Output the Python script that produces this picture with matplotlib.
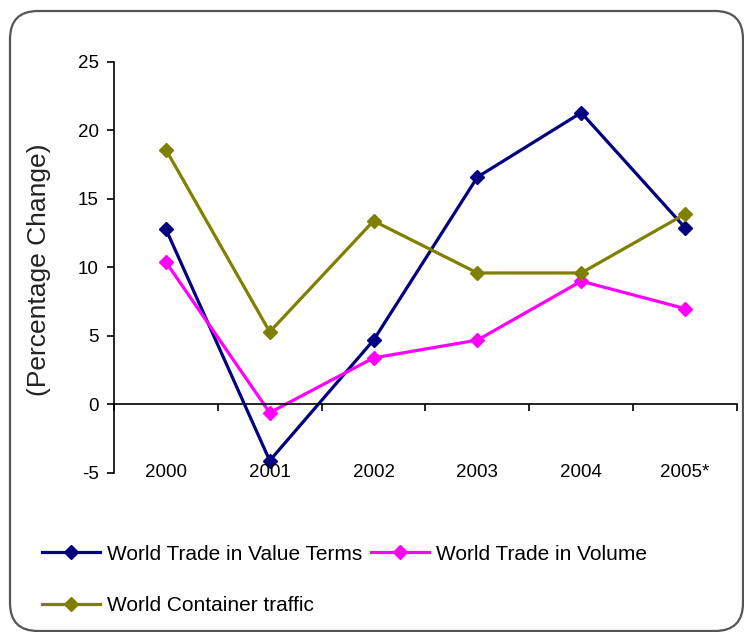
import numpy as np
import matplotlib.pyplot as plt
from matplotlib.patches import FancyBboxPatch

plt.rcParams['font.family'] = ['Liberation Sans', 'DejaVu Sans']
plt.rcParams['axes.unicode_minus'] = False

years = ['2000', '2001', '2002', '2003', '2004', '2005*']
value_terms = [12.8, -4.1, 4.7, 16.6, 21.3, 12.9]
volume = [10.4, -0.6, 3.4, 4.7, 9.0, 7.0]
container = [18.6, 5.3, 13.4, 9.6, 9.6, 13.9]

series = [
    ('World Trade in Value Terms', value_terms, '#000080'),
    ('World Trade in Volume', volume, '#FF00FF'),
    ('World Container traffic', container, '#808000'),
]

fig = plt.figure(figsize=(7.44, 6.32), dpi=100)
ax = fig.add_axes([0.1532, 0.2516, 0.8374, 0.6503])

x = np.arange(len(years))
handles = {}
for name, vals, col in series:
    h, = ax.plot(x, vals, color=col, lw=2.3, marker='D', ms=7,
                 markeredgecolor=col, label=name)
    handles[name] = h

ax.set_xlim(-0.5, len(years) - 0.5)
ax.set_ylim(-5, 25)
ax.set_yticks(np.arange(-5, 26, 5))
ax.tick_params(axis='y', direction='out', length=5, width=1.2, labelsize=13.5, pad=6)

# category axis crosses at zero, ticks on category boundaries
ax.spines['bottom'].set_position(('data', 0))
ax.spines['top'].set_visible(False)
ax.spines['right'].set_visible(False)
ax.spines['left'].set_linewidth(1.2)
ax.spines['bottom'].set_linewidth(1.2)
ax.set_xticks(np.arange(-0.5, len(years), 1.0))
ax.set_xticklabels([])
ax.tick_params(axis='x', direction='out', length=5, width=1.2)
for i, lab in enumerate(years):
    ax.text(i, -5, lab, ha='center', va='center', fontsize=13.5, clip_on=False)

fig.text(0.052, 0.573, '(Percentage Change)', rotation=90, ha='center',
         va='center', fontsize=19, color='#222222')

order = ['World Trade in Value Terms', 'World Container traffic', 'World Trade in Volume']
fig.legend([handles[n] for n in order], order, loc='upper left',
           bbox_to_anchor=(0.056, 0.138), ncol=2, frameon=False, fontsize=15,
           handlelength=2.8, handletextpad=0.35, columnspacing=0.4,
           labelspacing=1.55, borderaxespad=0, borderpad=0)

border = FancyBboxPatch((10, 1), 733, 620, boxstyle='round,pad=0,rounding_size=28',
                        transform=None, fill=False, edgecolor='#555555', lw=1.6)
fig.patches.append(border)

fig.savefig('out.png', dpi=100)
